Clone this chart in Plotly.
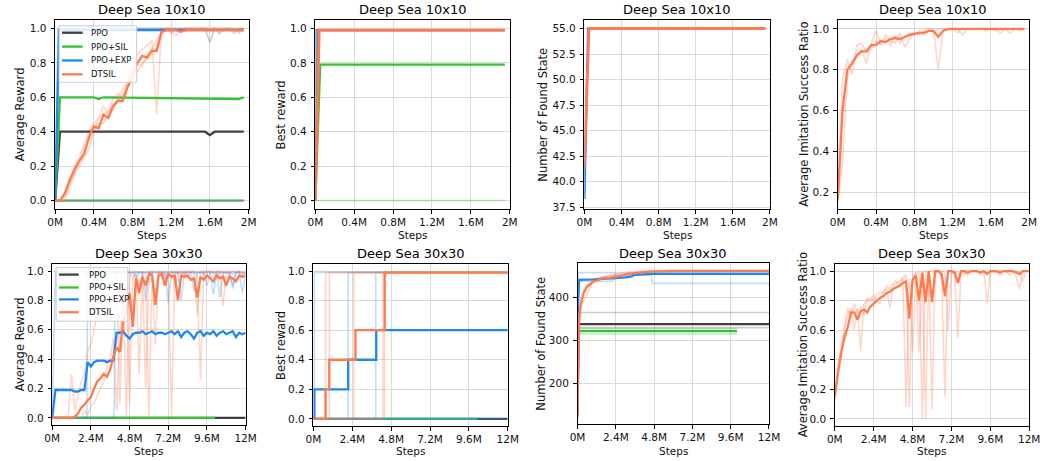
import plotly.graph_objects as go

W, H = 1051, 461
FONT = "DejaVu Sans"

# ---------------- colours ----------------
C_PPO, C_SIL, C_EXP, C_DTS = "#404040", "#33c433", "#1f88f0", "#ff7b4f"
L_PPO = "rgba(110,110,110,0.35)"
L_SIL = "rgba(51,196,51,0.35)"
L_EXP = "rgba(31,136,240,0.28)"
L_DTS = "rgba(255,123,79,0.3)"

LEGEND_NAMES = ["PPO", "PPO+SIL", "PPO+EXP", "DTSIL"]

# ---------------- tick labels ----------------
X10_TICKS = [0, 0.4, 0.8, 1.2, 1.6, 2.0]
X10_LABELS = ["0M", "0.4M", "0.8M", "1.2M", "1.6M", "2M"]
X30_TICKS = [0, 2.4, 4.8, 7.2, 9.6, 12.0]
X30_LABELS = ["0M", "2.4M", "4.8M", "7.2M", "9.6M", "12M"]
Y01_TICKS = [0.0, 0.2, 0.4, 0.6, 0.8, 1.0]
Y01_LABELS = ["0.0", "0.2", "0.4", "0.6", "0.8", "1.0"]
Y_IMIT10_TICKS = [0.2, 0.4, 0.6, 0.8, 1.0]
Y_IMIT10_LABELS = ["0.2", "0.4", "0.6", "0.8", "1.0"]
Y_STATE10_TICKS = [37.5, 40.0, 42.5, 45.0, 47.5, 50.0, 52.5, 55.0]
Y_STATE10_LABELS = ["37.5", "40.0", "42.5", "45.0", "47.5", "50.0", "52.5", "55.0"]
Y_STATE30_TICKS = [200, 300, 400]
Y_STATE30_LABELS = ["200", "300", "400"]

# ---------------- data: Deep Sea 10x10 (steps in millions) ----------------
X10 = [0.0, 0.05, 0.1, 0.15, 0.2, 0.25, 0.3, 0.35, 0.4, 0.45,
       0.5, 0.55, 0.6, 0.65, 0.7, 0.75, 0.8, 0.85, 0.9, 0.95,
       1.0, 1.05, 1.1, 1.15, 1.2, 1.25, 1.3, 1.35, 1.4, 1.45,
       1.5, 1.55, 1.6, 1.65, 1.7, 1.75, 1.8, 1.85, 1.9, 1.95]

# average reward
AR10_PPO_X = [0, 0.05, 1.55, 1.6, 1.65, 1.95]
AR10_PPO_Y = [0, 0.4, 0.4, 0.38, 0.4, 0.4]
AR10_SIL_X = [0, 0.05, 0.4, 0.45, 0.5, 1.9, 1.95]
AR10_SIL_Y = [0, 0.6, 0.6, 0.59, 0.6, 0.59, 0.6]
AR10_EXP_X = [0, 0.04, 1.95]
AR10_EXP_Y = [0, 0.99, 0.99]
AR10_ZERO_X = [0, 1.95]
AR10_ZERO_Y = [0, 0]
AR10_PPO_SEED_X = [0, 0.05, 1.55, 1.6, 1.65, 1.7, 1.75, 1.95]
AR10_PPO_SEED_Y = [0, 1.0, 1.0, 0.92, 1.0, 0.97, 1.0, 1.0]
AR10_EXP_SEED_X = [0, 0.03, 1.8, 1.85, 1.9, 1.95]
AR10_EXP_SEED_Y = [0, 1.0, 1.0, 0.97, 1.0, 1.0]
AR10_DTS = [0.0, 0.0, 0.04, 0.12, 0.18, 0.23, 0.27, 0.37, 0.43, 0.42,
            0.50, 0.48, 0.55, 0.58, 0.58, 0.66, 0.72, 0.80, 0.84, 0.83,
            0.87, 0.87, 0.98, 0.99, 0.99, 0.99, 0.98, 0.99, 0.99, 0.99,
            0.99, 0.99, 0.99, 0.99, 0.99, 0.99, 0.99, 0.99, 0.99, 0.99]
AR10_DTS_S1 = [0.0, 0.0, 0.02, 0.10, 0.20, 0.25, 0.33, 0.40, 0.45, 0.48,
               0.55, 0.50, 0.60, 0.62, 0.60, 0.70, 0.78, 0.85, 0.88, 0.90,
               0.93, 0.50, 1.0, 1.0, 0.97, 1.0, 1.0, 0.99, 1.0, 1.0,
               1.0, 1.0, 1.0, 1.0, 1.0, 1.0, 0.99, 1.0, 0.97, 1.0]
AR10_DTS_S2 = [0.0, 0.0, 0.0, 0.08, 0.15, 0.22, 0.30, 0.35, 0.40, 0.45,
               0.45, 0.50, 0.52, 0.58, 0.62, 0.66, 0.70, 0.75, 0.80, 0.82,
               0.85, 0.90, 0.96, 1.0, 0.98, 0.96, 1.0, 1.0, 1.0, 0.99,
               1.0, 1.0, 1.0, 1.0, 1.0, 1.0, 1.0, 1.0, 0.98, 0.99]
AR10_DTS_S3 = [0.0, 0.0, 0.05, 0.10, 0.15, 0.20, 0.25, 0.30, 0.40, 0.48,
               0.50, 0.52, 0.55, 0.60, 0.65, 0.68, 0.75, 0.80, 0.78, 0.85,
               0.88, 0.93, 0.98, 1.0, 1.0, 1.0, 0.99, 1.0, 1.0, 1.0,
               1.0, 1.0, 0.99, 1.0, 1.0, 1.0, 1.0, 0.99, 1.0, 1.0]

# best reward
BR10_PPO_X = [0, 0.005, 1.95]
BR10_PPO_Y = [0, 0.99, 0.99]
BR10_SIL_X = [0, 0.05, 1.95]
BR10_SIL_Y = [0, 0.79, 0.79]
BR10_SIL_SEED_X = [0, 1.95]
BR10_SIL_SEED_Y = [0, 0]
BR10_EXP_X = [0, 0.03, 1.95]
BR10_EXP_Y = [0, 0.99, 0.99]
BR10_DTS_X = [0, 0.04, 1.95]
BR10_DTS_Y = [0, 0.99, 0.99]

# number of found states
FS10_EXP_X = [0, 0.04, 1.95]
FS10_EXP_Y = [38.3, 55.0, 55.0]
FS10_DTS_X = [0, 0.05, 1.95]
FS10_DTS_Y = [41.5, 55.0, 55.0]

# imitation success ratio
IS10_DTS = [0.16, 0.60, 0.80, 0.83, 0.87, 0.89, 0.89, 0.92, 0.92, 0.94,
            0.935, 0.95, 0.955, 0.95, 0.96, 0.97, 0.975, 0.98, 0.98, 0.99,
            0.99, 0.96, 0.99, 1.0, 1.0, 1.0, 1.0, 1.0, 1.0, 1.0,
            1.0, 1.0, 1.0, 1.0, 1.0, 1.0, 1.0, 1.0, 1.0, 1.0]
IS10_DTS_S1 = [0.15, 0.34, 0.75, 0.85, 0.86, 0.90, 0.83, 0.93, 0.99, 0.93,
               0.95, 0.92, 0.97, 0.93, 0.96, 0.98, 0.97, 0.99, 0.97, 0.99,
               1.0, 0.80, 0.99, 1.0, 1.0, 0.98, 1.0, 1.0, 1.0, 1.0,
               1.0, 0.99, 1.0, 1.0, 0.98, 1.0, 1.0, 1.0, 0.99, 1.0]
IS10_DTS_S2 = [0.20, 0.75, 0.85, 0.78, 0.92, 0.93, 0.88, 0.90, 0.94, 0.92,
               0.97, 0.94, 0.93, 0.98, 0.91, 0.95, 0.98, 0.97, 0.99, 1.0,
               0.98, 1.0, 1.0, 0.99, 1.0, 1.0, 0.97, 1.0, 1.0, 1.0,
               1.0, 1.0, 1.0, 0.99, 1.0, 1.0, 0.98, 1.0, 1.0, 0.99]

# ---------------- data: Deep Sea 30x30 ----------------
X30 = [0.0, 0.2, 0.4, 0.6, 0.8, 1.0, 1.2, 1.4, 1.6, 1.8,
       2.0, 2.2, 2.4, 2.6, 2.8, 3.0, 3.2, 3.4, 3.6, 3.8,
       4.0, 4.2, 4.4, 4.6, 4.8, 5.0, 5.2, 5.4, 5.6, 5.8,
       6.0, 6.2, 6.4, 6.6, 6.8, 7.0, 7.2, 7.4, 7.6, 7.8,
       8.0, 8.2, 8.4, 8.6, 8.8, 9.0, 9.2, 9.4, 9.6, 9.8,
       10.0, 10.2, 10.4, 10.6, 10.8, 11.0, 11.2, 11.4, 11.6, 11.8,
       12.0]

# average reward
AR30_PPO_X = [0, 12]
AR30_PPO_Y = [0, 0]
AR30_SIL_X = [0, 10.1]
AR30_SIL_Y = [0, 0]
AR30_EXP = [0.0, 0.19, 0.19, 0.19, 0.19, 0.19, 0.19, 0.18, 0.18, 0.19,
            0.19, 0.38, 0.35, 0.38, 0.39, 0.39, 0.39, 0.38, 0.39, 0.39,
            0.58, 0.58, 0.59, 0.56, 0.54, 0.57, 0.58, 0.58, 0.59, 0.57,
            0.58, 0.59, 0.57, 0.58, 0.58, 0.57, 0.58, 0.59, 0.57, 0.59,
            0.55, 0.58, 0.59, 0.57, 0.54, 0.58, 0.59, 0.56, 0.58, 0.57,
            0.59, 0.56, 0.58, 0.59, 0.57, 0.58, 0.59, 0.55, 0.58, 0.57,
            0.58]
AR30_EXP_S1 = [0.0, 0.99, 0.99, 0.99, 0.99, 0.99, 0.99, 0.99, 0.99, 0.99,
               0.99, 0.99, 0.99, 0.99, 0.99, 0.99, 0.99, 0.99, 0.99, 0.99,
               0.99, 0.99, 0.99, 0.99, 0.99, 0.99, 0.95, 0.99, 0.99, 0.99,
               0.99, 0.99, 0.85, 0.99, 0.99, 0.92, 0.99, 0.99, 0.99, 0.99,
               0.80, 0.99, 0.99, 0.99, 0.86, 0.99, 0.99, 0.99, 0.90, 0.99,
               0.99, 0.99, 0.82, 0.99, 0.99, 0.99, 0.88, 0.99, 0.99, 0.85,
               0.99]
AR30_EXP_S2_X = [0, 2.15, 2.2, 5.6, 5.8, 6.0, 9.8, 10.0, 10.2, 12]
AR30_EXP_S2_Y = [0, 0, 0.99, 0.99, 0.80, 0.99, 0.99, 0.84, 0.99, 0.99]
AR30_EXP_S3_X = [0, 3.85, 3.9, 7.0, 7.2, 7.4, 11.0, 11.2, 11.4, 12]
AR30_EXP_S3_Y = [0, 0, 0.99, 0.99, 0.78, 0.99, 0.99, 0.90, 0.99, 0.99]
AR30_DTS = [0.0, 0.0, 0.0, 0.0, 0.0, 0.0, 0.0, 0.01, 0.03, 0.07,
            0.09, 0.12, 0.14, 0.20, 0.25, 0.27, 0.30, 0.28, 0.33, 0.42,
            0.48, 0.45, 0.65, 0.72, 0.85, 0.62, 0.95, 0.85, 0.96, 0.90,
            0.98, 0.97, 0.77, 0.97, 0.98, 0.90, 0.98, 0.96, 0.97, 0.80,
            0.97, 0.96, 0.97, 0.94, 0.95, 0.82, 0.96, 0.94, 0.97, 0.95,
            0.93, 0.97, 0.95, 0.96, 0.90, 0.96, 0.95, 0.93, 0.97, 0.96,
            0.97]
AR30_DTS_S1 = [0.0, 0.0, 0.0, 0.0, 0.0, 0.02, 0.30, 0.05, 0.15, 0.25,
               0.30, 0.45, 0.50, 0.60, 0.70, 0.75, 0.80, 0.85, 0.75, 0.90,
               0.95, 0.10, 0.97, 0.0, 0.99, 0.95, 1.0, 0.30, 1.0, 0.98,
               0.0, 1.0, 0.99, 1.0, 0.95, 1.0, 0.99, 0.0, 1.0, 0.98,
               1.0, 0.97, 1.0, 0.99, 1.0, 0.96, 0.26, 1.0, 0.99, 1.0,
               0.98, 1.0, 0.99, 0.76, 1.0, 0.98, 1.0, 0.99, 1.0, 0.97,
               1.0]
AR30_DTS_S2 = [0.0, 0.0, 0.0, 0.0, 0.0, 0.0, 0.0, 0.0, 0.0, 0.0,
               0.05, 0.02, 0.08, 0.10, 0.15, 0.20, 0.25, 0.35, 0.40, 0.55,
               0.05, 0.60, 0.75, 0.90, 0.10, 0.95, 0.98, 0.90, 0.99, 0.20,
               0.99, 0.98, 0.50, 0.99, 1.0, 0.97, 0.99, 1.0, 0.90, 1.0,
               0.98, 1.0, 0.95, 1.0, 0.99, 0.70, 1.0, 0.98, 1.0, 0.99,
               1.0, 0.95, 1.0, 0.99, 0.90, 1.0, 0.98, 0.99, 1.0, 0.98,
               0.99]

# best reward (step functions)
BR30_PPO_X = [0, 12]
BR30_PPO_Y = [0, 0]
BR30_SIL_X = [0, 10.15]
BR30_SIL_Y = [0, 0]
BR30_EXP_X = [0, 0.06, 2.15, 3.88, 12]
BR30_EXP_Y = [0, 0.2, 0.4, 0.6, 0.6]
BR30_DTS_X = [0, 0.75, 0.98, 2.6, 4.4, 12]
BR30_DTS_Y = [0, 0.2, 0.4, 0.6, 0.99, 0.99]
BR30_EXP_SEED_STARTS = [0.06, 2.15, 3.85]
BR30_DTS_SEED_STARTS = [0.75, 0.98, 2.5, 4.3, 4.4]
BR30_SEED_X_END = 12
BR30_SEED_LEVEL = 0.99

# number of found states
FS30_DTS_X = [0, 0.05, 0.1, 0.2, 0.3, 0.4, 0.6, 0.8, 1.0, 1.3, 1.6, 2.0,
              2.4, 2.8, 3.2, 3.6, 4.0, 4.5, 5.0, 6.0, 8.0, 10.0, 12.0]
FS30_DTS_Y = [120, 300, 350, 385, 400, 412, 425, 432, 437, 441, 445, 446,
              448, 451, 455, 457, 459, 460, 461, 462, 462, 462, 462]
FS30_DTS_S1_X = [0, 0.1, 0.2, 0.3, 0.5, 0.8, 1.0, 1.5, 2.0, 3.0, 4.0, 12]
FS30_DTS_S1_Y = [110, 330, 370, 385, 400, 425, 440, 448, 452, 458, 462, 463]
FS30_DTS_S2_X = [0, 0.1, 0.2, 0.3, 0.5, 0.8, 1.0, 1.5, 2.0, 3.0, 4.0, 12]
FS30_DTS_S2_Y = [120, 340, 390, 410, 425, 437, 442, 446, 450, 455, 460, 462]
FS30_EXP_X = [0, 0.05, 0.1, 1.0, 2.0, 2.4, 3.0, 3.4, 3.5, 4.0, 4.6, 12]
FS30_EXP_Y = [350, 420, 441, 442, 443, 445, 447, 449, 452, 454, 455, 455]
FS30_EXP_S1_X = [0, 0.05, 12]
FS30_EXP_S1_Y = [360, 458, 458]
FS30_EXP_S2_X = [0, 0.05, 2.2, 2.3, 4.6, 4.7, 12]
FS30_EXP_S2_Y = [350, 438, 438, 452, 452, 433, 433]
FS30_PPO_X = [0, 0.03, 0.06, 12]
FS30_PPO_Y = [130, 300, 338, 338]
FS30_PPO_S1_X = [0, 0.05, 12]
FS30_PPO_S1_Y = [140, 365, 365]
FS30_PPO_S2_X = [0, 0.05, 12]
FS30_PPO_S2_Y = [130, 330, 330]
FS30_SIL_X = [0, 0.05, 0.1, 10.0]
FS30_SIL_Y = [200, 300, 322, 322]
FS30_SIL_S1_X = [0.05, 10.0]
FS30_SIL_S1_Y = [315, 315]
FS30_SIL_S2_X = [0.05, 10.0]
FS30_SIL_S2_Y = [328, 328]

# imitation success ratio
IS30_DTS = [0.15, 0.32, 0.45, 0.55, 0.62, 0.72, 0.72, 0.67, 0.73, 0.74,
            0.72, 0.76, 0.78, 0.80, 0.82, 0.83, 0.85, 0.86, 0.88, 0.89,
            0.90, 0.92, 0.93, 0.68, 0.94, 0.97, 0.80, 0.99, 0.79, 1.0,
            0.79, 1.0, 1.0, 0.98, 0.83, 1.0, 1.0, 0.99, 0.92, 1.0,
            1.0, 0.99, 1.0, 1.0, 1.0, 0.99, 1.0, 0.98, 1.0, 1.0,
            1.0, 0.99, 1.0, 1.0, 1.0, 1.0, 0.99, 0.98, 1.0, 1.0,
            1.0]
IS30_DTS_S1 = [0.12, 0.35, 0.50, 0.60, 0.70, 0.75, 0.60, 0.75, 0.46, 0.78,
               0.80, 0.82, 0.80, 0.84, 0.86, 0.85, 0.88, 0.75, 0.90, 0.92,
               0.93, 0.95, 0.08, 0.95, 0.45, 0.98, 0.99, 0.0, 1.0, 0.99,
               0.06, 1.0, 1.0, 0.95, 0.15, 1.0, 1.0, 0.97, 0.55, 1.0,
               0.98, 1.0, 0.99, 1.0, 1.0, 0.97, 1.0, 0.78, 1.0, 0.99,
               1.0, 0.97, 1.0, 0.99, 1.0, 1.0, 0.96, 0.88, 1.0, 1.0,
               1.0]
IS30_DTS_S2 = [0.18, 0.28, 0.42, 0.62, 0.75, 0.68, 0.78, 0.72, 0.76, 0.70,
               0.82, 0.79, 0.84, 0.80, 0.78, 0.86, 0.90, 0.88, 0.92, 0.94,
               0.90, 0.96, 0.97, 0.08, 0.97, 0.99, 0.45, 1.0, 0.0, 1.0,
               1.0, 0.98, 1.0, 1.0, 0.99, 0.60, 1.0, 1.0, 0.98, 1.0,
               1.0, 0.97, 1.0, 1.0, 0.99, 1.0, 1.0, 0.98, 1.0, 1.0,
               0.99, 1.0, 1.0, 1.0, 0.97, 1.0, 1.0, 0.99, 0.93, 1.0,
               1.0]

# ---------------- layout of panels (pixel boxes: left, top, right, bottom) ----------------
PANELS = [
    dict(box=(48, 20, 245, 211), xr=[0, 2], yr=[-0.05, 1.05], xt=(X10_TICKS, X10_LABELS),
         yt=(Y01_TICKS, Y01_LABELS), title="Deep Sea 10x10", ylab="Average Reward", ylx=13),
    dict(box=(313, 20, 511, 211), xr=[0, 2], yr=[-0.05, 1.05], xt=(X10_TICKS, X10_LABELS),
         yt=(Y01_TICKS, Y01_LABELS), title="Deep Sea 10x10", ylab="Best reward", ylx=279),
    dict(box=(587, 20, 776, 211), xr=[0, 2], yr=[37.3, 55.85], xt=(X10_TICKS, X10_LABELS),
         yt=(Y_STATE10_TICKS, Y_STATE10_LABELS), title="Deep Sea 10x10",
         ylab="Number of Found State", ylx=545),
    dict(box=(845, 20, 1040, 211), xr=[0, 2], yr=[0.117, 1.044], xt=(X10_TICKS, X10_LABELS),
         yt=(Y_IMIT10_TICKS, Y_IMIT10_LABELS), title="Deep Sea 10x10",
         ylab="Average Imitation Success Ratio", ylx=811),
    dict(box=(45, 266, 242, 429), xr=[0, 12], yr=[-0.05, 1.05], xt=(X30_TICKS, X30_LABELS),
         yt=(Y01_TICKS, Y01_LABELS), title="Deep Sea 30x30", ylab="Average Reward", ylx=13),
    dict(box=(311, 266, 509, 430), xr=[0, 12], yr=[-0.05, 1.05], xt=(X30_TICKS, X30_LABELS),
         yt=(Y01_TICKS, Y01_LABELS), title="Deep Sea 30x30", ylab="Best reward", ylx=278),
    dict(box=(580, 265, 775, 428), xr=[0, 12], yr=[105, 481], xt=(X30_TICKS, X30_LABELS),
         yt=(Y_STATE30_TICKS, Y_STATE30_LABELS), title="Deep Sea 30x30",
         ylab="Number of Found State", ylx=543),
    dict(box=(842, 266, 1040, 430), xr=[0, 12], yr=[-0.05, 1.05], xt=(X30_TICKS, X30_LABELS),
         yt=(Y01_TICKS, Y01_LABELS), title="Deep Sea 30x30",
         ylab="Average Imitation Success Ratio", ylx=810),
]

fig = go.Figure()


def ax_names(i):
    return ("x", "y") if i == 1 else (f"x{i}", f"y{i}")


def line(i, x, y, color, width=2.2, shape="linear"):
    xa, ya = ax_names(i)
    fig.add_trace(go.Scatter(x=x, y=y, mode="lines", xaxis=xa, yaxis=ya,
                             line=dict(color=color, width=width, shape=shape),
                             showlegend=False, hoverinfo="skip"))


SEED_W = 1.6
MEAN_W = 2.3

# ---- panel 1 ----
line(1, AR10_ZERO_X, AR10_ZERO_Y, "rgba(110,110,110,0.5)", MEAN_W)
line(1, AR10_ZERO_X, AR10_ZERO_Y, "rgba(51,170,51,0.6)", MEAN_W)
line(1, AR10_PPO_SEED_X, AR10_PPO_SEED_Y, L_PPO, SEED_W)
line(1, AR10_EXP_SEED_X, AR10_EXP_SEED_Y, L_EXP, SEED_W)
for s in (AR10_DTS_S1, AR10_DTS_S2, AR10_DTS_S3):
    line(1, X10, s, L_DTS, SEED_W)
line(1, AR10_PPO_X, AR10_PPO_Y, C_PPO, MEAN_W)
line(1, AR10_SIL_X, AR10_SIL_Y, C_SIL, MEAN_W)
line(1, AR10_EXP_X, AR10_EXP_Y, C_EXP, MEAN_W)
line(1, X10, AR10_DTS, C_DTS, MEAN_W)

# ---- panel 2 ----
line(2, BR10_SIL_SEED_X, BR10_SIL_SEED_Y, L_SIL, SEED_W)
line(2, BR10_PPO_X, BR10_PPO_Y, "rgba(90,90,90,0.6)", MEAN_W)
line(2, BR10_SIL_X, BR10_SIL_Y, C_SIL, MEAN_W)
line(2, BR10_EXP_X, BR10_EXP_Y, C_EXP, MEAN_W)
line(2, BR10_DTS_X, BR10_DTS_Y, C_DTS, MEAN_W + 0.5)

# ---- panel 3 ----
line(3, FS10_EXP_X, FS10_EXP_Y, C_EXP, MEAN_W)
line(3, FS10_DTS_X, FS10_DTS_Y, C_DTS, MEAN_W + 0.5)

# ---- panel 4 ----
for s in (IS10_DTS_S1, IS10_DTS_S2):
    line(4, X10, s, L_DTS, SEED_W)
line(4, X10, IS10_DTS, C_DTS, MEAN_W)

# ---- panel 5 ----
line(5, AR30_PPO_X, AR30_PPO_Y, C_PPO, MEAN_W)
line(5, AR30_SIL_X, AR30_SIL_Y, C_SIL, MEAN_W)
line(5, X30, AR30_EXP_S1, L_EXP, SEED_W)
line(5, AR30_EXP_S2_X, AR30_EXP_S2_Y, L_EXP, SEED_W)
line(5, AR30_EXP_S3_X, AR30_EXP_S3_Y, L_EXP, SEED_W)
for s in (AR30_DTS_S1, AR30_DTS_S2):
    line(5, X30, s, L_DTS, SEED_W)
line(5, X30, AR30_EXP, C_EXP, MEAN_W)
line(5, X30, AR30_DTS, C_DTS, MEAN_W)

# ---- panel 6 ----
line(6, BR30_PPO_X, BR30_PPO_Y, "#2f5a8a", MEAN_W)
line(6, BR30_SIL_X, BR30_SIL_Y, "#2eaa8a", MEAN_W)
for st in BR30_EXP_SEED_STARTS:
    line(6, [0, st, BR30_SEED_X_END], [0, BR30_SEED_LEVEL, BR30_SEED_LEVEL], L_EXP, SEED_W, "hv")
for st in BR30_DTS_SEED_STARTS:
    line(6, [0, st, BR30_SEED_X_END], [0, BR30_SEED_LEVEL, BR30_SEED_LEVEL], L_DTS, SEED_W, "hv")
line(6, BR30_EXP_X, BR30_EXP_Y, C_EXP, MEAN_W, "hv")
line(6, BR30_DTS_X, BR30_DTS_Y, C_DTS, MEAN_W, "hv")

# ---- panel 7 ----
line(7, FS30_PPO_S1_X, FS30_PPO_S1_Y, L_PPO, SEED_W)
line(7, FS30_PPO_S2_X, FS30_PPO_S2_Y, L_PPO, SEED_W)
line(7, FS30_SIL_S1_X, FS30_SIL_S1_Y, L_SIL, SEED_W)
line(7, FS30_SIL_S2_X, FS30_SIL_S2_Y, L_SIL, SEED_W)
line(7, FS30_EXP_S1_X, FS30_EXP_S1_Y, L_EXP, SEED_W)
line(7, FS30_EXP_S2_X, FS30_EXP_S2_Y, L_EXP, SEED_W)
line(7, FS30_DTS_S1_X, FS30_DTS_S1_Y, L_DTS, SEED_W)
line(7, FS30_DTS_S2_X, FS30_DTS_S2_Y, L_DTS, SEED_W)
line(7, FS30_PPO_X, FS30_PPO_Y, C_PPO, MEAN_W)
line(7, FS30_SIL_X, FS30_SIL_Y, C_SIL, MEAN_W)
line(7, FS30_EXP_X, FS30_EXP_Y, C_EXP, MEAN_W)
line(7, FS30_DTS_X, FS30_DTS_Y, C_DTS, MEAN_W)

# ---- panel 8 ----
for s in (IS30_DTS_S1, IS30_DTS_S2):
    line(8, X30, s, L_DTS, SEED_W)
line(8, X30, IS30_DTS, C_DTS, MEAN_W)

# ---------------- axes ----------------
layout = dict(width=W, height=H, margin=dict(l=0, r=0, t=0, b=0),
              paper_bgcolor="white", plot_bgcolor="white", showlegend=False,
              font=dict(family=FONT, color="#111"))
annotations = []
shapes = []
TICKFONT = dict(family=FONT, size=10.5, color="#111")
for i, p in enumerate(PANELS, 1):
    l, t, r, b = p["box"]
    sx = "" if i == 1 else str(i)
    common = dict(showline=True, mirror=True, linecolor="black", linewidth=1,
                  ticks="outside", ticklen=3.5, tickcolor="black", tickwidth=1,
                  showgrid=True, gridcolor="#dadada", gridwidth=1, zeroline=False,
                  tickfont=TICKFONT, tickmode="array", fixedrange=True)
    layout[f"xaxis{sx}"] = dict(common, domain=[l / W, r / W], range=p["xr"],
                                anchor=f"y{sx}" if sx else "y",
                                tickvals=p["xt"][0], ticktext=p["xt"][1])
    layout[f"yaxis{sx}"] = dict(common, domain=[1 - b / H, 1 - t / H], range=p["yr"],
                                anchor=f"x{sx}" if sx else "x", ticklabelstandoff=2,
                                tickvals=p["yt"][0], ticktext=p["yt"][1])
    cx = (l + r) / 2
    row_top = 10 if t < 100 else 256
    steps_y = 237 if t < 100 else 455
    annotations.append(dict(text=p["title"], x=cx / W, y=1 - row_top / H, xref="paper", yref="paper",
                            showarrow=False, xanchor="center", yanchor="middle",
                            font=dict(family=FONT, size=13, color="black", weight="normal")))
    annotations.append(dict(text="Steps", x=cx / W, y=1 - steps_y / H, xref="paper", yref="paper",
                            showarrow=False, xanchor="center", yanchor="middle",
                            font=dict(family=FONT, size=10.5, color="#111")))
    annotations.append(dict(text=p["ylab"], x=p["ylx"] / W, y=1 - ((t + b) / 2) / H,
                            xref="paper", yref="paper", showarrow=False, textangle=-90,
                            xanchor="center", yanchor="middle",
                            font=dict(family=FONT, size=11.5, color="#111")))

# ---------------- manual legends (panels 1 and 5) ----------------
LEGEND_BOXES = [
    dict(box=(52, 26, 131, 83), rows=[33, 47, 61, 75], lx=(55, 76), tx=82),
    dict(box=(49, 270, 122, 324), rows=[277, 290, 302, 315], lx=(52, 72), tx=80),
]
LEG_COLORS = [C_PPO, C_SIL, C_EXP, C_DTS]
for lg in LEGEND_BOXES:
    l, t, r, b = lg["box"]
    shapes.append(dict(type="rect", xref="paper", yref="paper", x0=l / W, x1=r / W,
                       y0=1 - b / H, y1=1 - t / H, fillcolor="rgba(255,255,255,0.85)",
                       line=dict(color="#cccccc", width=1), layer="above"))
    for name, col, ry in zip(LEGEND_NAMES, LEG_COLORS, lg["rows"]):
        shapes.append(dict(type="line", xref="paper", yref="paper",
                           x0=lg["lx"][0] / W, x1=lg["lx"][1] / W,
                           y0=1 - ry / H, y1=1 - ry / H, line=dict(color=col, width=2.3),
                           layer="above"))
        annotations.append(dict(text=name, x=lg["tx"] / W, y=1 - ry / H, xref="paper", yref="paper",
                                showarrow=False, xanchor="left", yanchor="middle",
                                font=dict(family=FONT, size=8.5, color="#111")))

layout["annotations"] = annotations
layout["shapes"] = shapes
fig.update_layout(**layout)
fig.write_html("out.html")
